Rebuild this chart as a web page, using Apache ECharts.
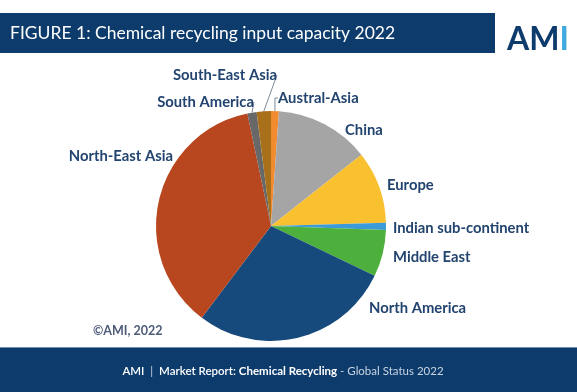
<!DOCTYPE html>
<html>
<head>
<meta charset="utf-8">
<script src="https://cdn.jsdelivr.net/npm/echarts@6/dist/echarts.min.js"></script>
<style>
  html, body { margin: 0; padding: 0; background: #ffffff; }
  #chart { width: 577px; height: 392px; }
</style>
</head>
<body>
<div id="chart"></div>
<script>
// ---- Data (% share of capacity) ----
const categories = ['Austral-Asia', 'China', 'Europe', 'Indian sub-continent', 'Middle East',
                    'North America', 'North-East Asia', 'South America', 'South-East Asia'];
const values = [1.1, 13.3, 10.2, 1.0, 6.6, 28.2, 36.5, 1.3, 2.0];
const titleText = 'FIGURE 1: Chemical recycling input capacity 2022';
const copyrightText = '©AMI, 2022';

// ---- Styles ----
const sliceColors = ['#F28A2E', '#A5A5A5', '#F9C02F', '#3B9BD8', '#4DAF3C',
                     '#174A7C', '#B8461F', '#686868', '#A8701A'];
const navy = '#0C3B6C';
const labelColor = '#22446F';
const smallSlices = ['Austral-Asia', 'South America', 'South-East Asia'];
// label placement (layout only, not data): anchor x, y and alignment
const labelPlace = {
  'Austral-Asia':         { x: 278, y: 98,  align: 'left' },
  'China':                { x: 345, y: 130, align: 'left' },
  'Europe':               { x: 387, y: 185, align: 'left' },
  'Indian sub-continent': { x: 393, y: 228, align: 'left' },
  'Middle East':          { x: 393, y: 257, align: 'left' },
  'North America':        { x: 369, y: 308, align: 'left' },
  'North-East Asia':      { x: 173, y: 156, align: 'right' },
  'South America':        { x: 254, y: 102, align: 'right' },
  'South-East Asia':      { x: 225, y: 75,  align: 'center' }
};

const pieData = categories.map((c, i) => ({
  name: c,
  value: values[i],
  itemStyle: { color: sliceColors[i] },
  labelLine: { show: smallSlices.includes(c) }
}));

const chart = echarts.init(document.getElementById('chart'), null, { renderer: 'canvas' });
chart.setOption({
  backgroundColor: '#ffffff',
  animation: false,
  graphic: [
    { type: 'rect', z: 0, shape: { x: 0, y: 13, width: 495, height: 40 }, style: { fill: navy } },
    { type: 'text', z: 1, x: 10, y: 33,
      style: { text: titleText, fill: '#ffffff', font: '17.5px Lato', verticalAlign: 'middle' } },
    { type: 'text', z: 1, x: 507, y: 40,
      style: { text: '{a|AM}{b|I}', verticalAlign: 'middle',
        rich: { a: { fill: navy, font: 'bold 32px Lato' }, b: { fill: '#3FA9E0', font: 'bold 32px Lato' } } } },
    { type: 'rect', z: 0, shape: { x: 0, y: 347, width: 577, height: 45 }, style: { fill: navy } },
    { type: 'rect', z: 1, shape: { x: 0, y: 347, width: 577, height: 1 }, style: { fill: '#6F8FB5' } },
    { type: 'text', z: 1, x: 283, y: 371,
      style: { text: '{w|AMI}{g|  |  }{w|Market Report: }{b|Chemical Recycling}{g| - Global Status 2022}',
        align: 'center', verticalAlign: 'middle',
        rich: {
          w: { fill: '#ffffff', font: '600 11.5px Lato' },
          g: { fill: '#C9D4E2', font: '11.5px Lato' },
          b: { fill: '#ffffff', font: 'bold 11.5px Lato' }
        } } },
    { type: 'text', z: 1, x: 93, y: 331,
      style: { text: copyrightText, fill: '#4D5B78', font: 'bold 12.5px Lato', verticalAlign: 'middle' } }
  ],
  series: [{
    type: 'pie',
    center: [271, 226],
    radius: 115,
    startAngle: 90,
    clockwise: true,
    data: pieData,
    label: {
      show: true,
      position: 'outside',
      color: labelColor,
      fontFamily: 'Lato',
      fontWeight: 'bold',
      fontSize: 14.8
    },
    labelLine: {
      show: false,
      length: 6,
      length2: 4,
      lineStyle: { color: '#7F8C9C', width: 1 }
    },
    labelLayout: function (params) {
      const p = labelPlace[categories[params.dataIndex]];
      if (!p) return {};
      return { x: p.x, y: p.y, align: p.align, verticalAlign: 'middle', hideOverlap: false };
    },
    itemStyle: { borderWidth: 0 },
    emphasis: { disabled: true }
  }]
});
</script>
</body>
</html>
